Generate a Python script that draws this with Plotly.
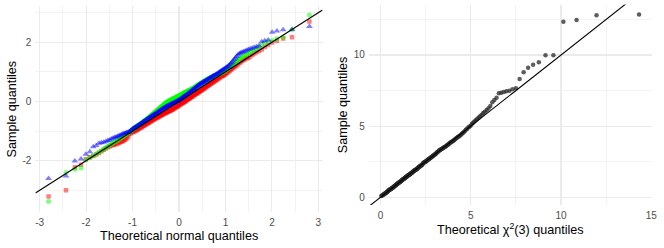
import math
from statistics import NormalDist
import plotly.graph_objects as go

# ---------------- data (sorted sample quantiles) ----------------
red_sample = [
    -3.21, -3.00, -2.22, -2.14, -1.95, -1.88, -1.84, -1.79, -1.74, -1.68,
    -1.63, -1.59, -1.55, -1.52, -1.49, -1.47, -1.46, -1.44, -1.42, -1.40,
    -1.38, -1.36, -1.34, -1.32, -1.29, -1.26, -1.22, -1.17, -1.10, -1.07,
    -1.05, -1.03, -1.03, -1.01, -0.99, -0.98, -0.96, -0.94, -0.92, -0.91,
    -0.89, -0.87, -0.86, -0.84, -0.82, -0.80, -0.79, -0.77, -0.76, -0.74,
    -0.73, -0.71, -0.70, -0.68, -0.67, -0.65, -0.64, -0.62, -0.61, -0.59,
    -0.58, -0.57, -0.56, -0.54, -0.53, -0.52, -0.51, -0.49, -0.48, -0.47,
    -0.46, -0.45, -0.44, -0.42, -0.41, -0.40, -0.39, -0.38, -0.37, -0.36,
    -0.35, -0.34, -0.33, -0.32, -0.31, -0.30, -0.29, -0.28, -0.27, -0.26,
    -0.24, -0.23, -0.22, -0.21, -0.19, -0.18, -0.17, -0.16, -0.15, -0.13,
    -0.12, -0.10, -0.09, -0.08, -0.07, -0.05, -0.04, -0.03, -0.02, 0.00,
    0.01, 0.02, 0.04, 0.05, 0.07, 0.08, 0.09, 0.10, 0.12, 0.13,
    0.15, 0.16, 0.17, 0.19, 0.20, 0.22, 0.23, 0.25, 0.26, 0.27,
    0.29, 0.30, 0.31, 0.33, 0.34, 0.36, 0.37, 0.39, 0.40, 0.42,
    0.43, 0.45, 0.47, 0.48, 0.50, 0.52, 0.53, 0.55, 0.57, 0.58,
    0.60, 0.62, 0.63, 0.65, 0.67, 0.69, 0.70, 0.72, 0.74, 0.76,
    0.78, 0.80, 0.82, 0.84, 0.86, 0.87, 0.89, 0.91, 0.93, 0.96,
    0.98, 1.01, 1.04, 1.07, 1.10, 1.13, 1.16, 1.19, 1.22, 1.26,
    1.30, 1.33, 1.37, 1.40, 1.43, 1.46, 1.48, 1.52, 1.58, 1.62,
    1.66, 1.71, 1.76, 1.84, 1.91, 1.99, 2.05, 2.13, 2.17, 2.70,
]

green_sample = [
    -3.38, -2.40, -2.29, -2.25, -1.98, -1.90, -1.83, -1.77, -1.71, -1.66,
    -1.61, -1.56, -1.52, -1.48, -1.44, -1.40, -1.37, -1.34, -1.31, -1.28,
    -1.25, -1.22, -1.19, -1.16, -1.13, -1.11, -1.08, -1.06, -1.04, -1.01,
    -0.99, -0.96, -0.93, -0.90, -0.88, -0.86, -0.84, -0.82, -0.80, -0.78,
    -0.76, -0.74, -0.72, -0.70, -0.68, -0.66, -0.64, -0.62, -0.60, -0.58,
    -0.56, -0.54, -0.52, -0.50, -0.48, -0.46, -0.44, -0.42, -0.40, -0.38,
    -0.36, -0.34, -0.32, -0.30, -0.28, -0.26, -0.25, -0.23, -0.21, -0.19,
    -0.18, -0.16, -0.14, -0.12, -0.10, -0.08, -0.07, -0.05, -0.04, -0.02,
    -0.01, 0.00, 0.01, 0.03, 0.04, 0.05, 0.06, 0.07, 0.08, 0.09,
    0.10, 0.11, 0.12, 0.13, 0.14, 0.15, 0.16, 0.17, 0.18, 0.19,
    0.20, 0.21, 0.22, 0.23, 0.24, 0.26, 0.27, 0.28, 0.29, 0.30,
    0.31, 0.32, 0.33, 0.34, 0.35, 0.36, 0.37, 0.38, 0.39, 0.40,
    0.41, 0.42, 0.43, 0.44, 0.45, 0.47, 0.48, 0.50, 0.51, 0.52,
    0.54, 0.55, 0.57, 0.58, 0.59, 0.61, 0.62, 0.63, 0.65, 0.66,
    0.68, 0.69, 0.70, 0.72, 0.73, 0.74, 0.76, 0.77, 0.78, 0.80,
    0.81, 0.82, 0.83, 0.85, 0.86, 0.87, 0.88, 0.89, 0.90, 0.91,
    0.92, 0.93, 0.94, 0.96, 0.97, 0.99, 1.01, 1.03, 1.05, 1.07,
    1.10, 1.13, 1.16, 1.19, 1.22, 1.25, 1.28, 1.31, 1.35, 1.39,
    1.43, 1.47, 1.50, 1.53, 1.57, 1.60, 1.63, 1.66, 1.70, 1.74,
    1.79, 1.84, 1.90, 1.98, 2.02, 2.06, 2.12, 2.17, 2.42, 2.92,
]

blue_sample = [
    -2.60, -2.52, -2.01, -1.94, -1.78, -1.70, -1.53, -1.49, -1.41, -1.39,
    -1.38, -1.35, -1.32, -1.30, -1.27, -1.24, -1.22, -1.20, -1.18, -1.16,
    -1.14, -1.12, -1.10, -1.08, -1.07, -1.06, -1.05, -1.04, -1.02, -0.99,
    -0.96, -0.93, -0.91, -0.89, -0.87, -0.85, -0.83, -0.81, -0.79, -0.78,
    -0.76, -0.74, -0.72, -0.70, -0.68, -0.67, -0.65, -0.63, -0.61, -0.60,
    -0.58, -0.56, -0.55, -0.53, -0.51, -0.50, -0.48, -0.47, -0.45, -0.44,
    -0.42, -0.41, -0.39, -0.38, -0.36, -0.35, -0.33, -0.32, -0.30, -0.29,
    -0.28, -0.26, -0.25, -0.24, -0.22, -0.21, -0.20, -0.19, -0.17, -0.16,
    -0.15, -0.14, -0.13, -0.12, -0.11, -0.10, -0.09, -0.08, -0.07, -0.06,
    -0.05, -0.04, -0.03, -0.02, -0.01, 0.00, 0.01, 0.02, 0.03, 0.04,
    0.05, 0.07, 0.08, 0.10, 0.11, 0.12, 0.14, 0.15, 0.17, 0.18,
    0.19, 0.21, 0.22, 0.24, 0.25, 0.27, 0.28, 0.30, 0.31, 0.33,
    0.34, 0.36, 0.38, 0.39, 0.41, 0.43, 0.44, 0.46, 0.48, 0.50,
    0.51, 0.53, 0.55, 0.56, 0.58, 0.59, 0.60, 0.62, 0.63, 0.65,
    0.66, 0.67, 0.69, 0.70, 0.72, 0.73, 0.75, 0.76, 0.78, 0.79,
    0.81, 0.82, 0.84, 0.85, 0.87, 0.88, 0.90, 0.91, 0.93, 0.95,
    0.97, 0.99, 1.01, 1.03, 1.05, 1.07, 1.09, 1.11, 1.14, 1.16,
    1.18, 1.21, 1.24, 1.28, 1.32, 1.37, 1.42, 1.47, 1.52, 1.57,
    1.61, 1.64, 1.66, 1.68, 1.71, 1.73, 1.76, 1.78, 1.80, 1.83,
    1.85, 1.88, 2.02, 2.05, 2.08, 2.34, 2.38, 2.42, 2.43, 2.53,
]

chisq_sample = [
    0.09, 0.12, 0.16, 0.19, 0.22, 0.25, 0.27, 0.30, 0.32, 0.35,
    0.38, 0.40, 0.43, 0.46, 0.49, 0.51, 0.53, 0.55, 0.57, 0.59,
    0.61, 0.63, 0.64, 0.66, 0.68, 0.70, 0.72, 0.74, 0.77, 0.79,
    0.81, 0.83, 0.86, 0.88, 0.90, 0.93, 0.95, 0.97, 0.99, 1.01,
    1.03, 1.05, 1.06, 1.08, 1.10, 1.12, 1.14, 1.16, 1.18, 1.21,
    1.23, 1.25, 1.28, 1.30, 1.31, 1.33, 1.35, 1.37, 1.40, 1.42,
    1.44, 1.46, 1.48, 1.50, 1.53, 1.55, 1.57, 1.58, 1.60, 1.62,
    1.64, 1.67, 1.69, 1.71, 1.73, 1.76, 1.78, 1.81, 1.83, 1.86,
    1.88, 1.90, 1.92, 1.94, 1.96, 1.98, 2.00, 2.03, 2.06, 2.09,
    2.11, 2.14, 2.16, 2.19, 2.21, 2.23, 2.26, 2.29, 2.33, 2.37,
    2.41, 2.44, 2.46, 2.48, 2.50, 2.52, 2.55, 2.58, 2.61, 2.64,
    2.67, 2.70, 2.72, 2.75, 2.78, 2.81, 2.84, 2.87, 2.90, 2.93,
    2.96, 2.99, 3.03, 3.06, 3.10, 3.14, 3.18, 3.22, 3.26, 3.30,
    3.33, 3.36, 3.39, 3.42, 3.45, 3.48, 3.51, 3.54, 3.57, 3.61,
    3.65, 3.69, 3.73, 3.78, 3.83, 3.87, 3.90, 3.94, 3.98, 4.03,
    4.08, 4.13, 4.18, 4.23, 4.28, 4.33, 4.38, 4.44, 4.51, 4.58,
    4.66, 4.74, 4.80, 4.90, 4.96, 5.03, 5.15, 5.24, 5.32, 5.41,
    5.50, 5.60, 5.70, 5.80, 5.92, 6.02, 6.13, 6.25, 6.42, 6.68,
    6.84, 7.00, 7.31, 7.35, 7.40, 7.45, 7.49, 7.59, 7.66, 8.31,
    8.78, 9.11, 9.32, 9.49, 9.98, 9.98, 12.34, 12.46, 12.80, 12.85,
]

left_xticks = [-3, -2, -1, 0, 1, 2, 3]
left_xtick_labels = ["-3", "-2", "-1", "0", "1", "2", "3"]
left_yticks = [-2, 0, 2]
left_ytick_labels = ["-2", "0", "2"]
right_xticks = [0, 5, 10, 15]
right_xtick_labels = ["0", "5", "10", "15"]
right_yticks = [0, 5, 10]
right_ytick_labels = ["0", "5", "10"]

ref_intercept = 0.0
ref_slope = 1.0

# ---------------- theoretical quantiles (stat_qq style) ----------------
def normal_quantiles(n):
    nd = NormalDist()
    return [nd.inv_cdf((i - 0.5) / n) for i in range(1, n + 1)]


def chi3_cdf(x):
    if x <= 0:
        return 0.0
    return math.erf(math.sqrt(x / 2)) - math.sqrt(2 * x / math.pi) * math.exp(-x / 2)


def chi3_quantile(p):
    lo, hi = 0.0, 60.0
    for _ in range(100):
        mid = (lo + hi) / 2
        if chi3_cdf(mid) < p:
            lo = mid
        else:
            hi = mid
    return (lo + hi) / 2


def chi3_quantiles(n):
    return [chi3_quantile((i - 0.5) / n) for i in range(1, n + 1)]


FONT = "Liberation Sans, Arial, sans-serif"
GRID = "#EBEBEB"

fig = go.Figure()

groups = [
    (red_sample, "rgba(255,0,0,0.5)", "square", 4.5),
    (green_sample, "rgba(0,255,0,0.5)", "circle", 5),
    (blue_sample, "rgba(0,0,255,0.5)", "triangle-up", 6),
]
for vals, col, sym, sz in groups:
    fig.add_trace(go.Scatter(
        x=normal_quantiles(len(vals)), y=sorted(vals), mode="markers",
        marker=dict(symbol=sym, size=sz, color=col, line=dict(width=0)),
        xaxis="x", yaxis="y", showlegend=False, hoverinfo="skip"))

left_xrange = [-3.09, 3.09]
left_yrange = [-3.72, 3.24]
fig.add_trace(go.Scatter(
    x=left_xrange, y=[ref_intercept + ref_slope * v for v in left_xrange],
    mode="lines", line=dict(color="black", width=1.1),
    xaxis="x", yaxis="y", showlegend=False, hoverinfo="skip"))

right_xrange = [-0.64, 15.03]
right_yrange = [-0.54, 13.54]
fig.add_trace(go.Scatter(
    x=chi3_quantiles(len(chisq_sample)), y=sorted(chisq_sample), mode="markers",
    marker=dict(symbol="circle", size=4.5, color="rgba(40,40,40,0.75)", line=dict(width=0)),
    xaxis="x2", yaxis="y2", showlegend=False, hoverinfo="skip"))
fig.add_trace(go.Scatter(
    x=right_xrange, y=[ref_intercept + ref_slope * v for v in right_xrange],
    mode="lines", line=dict(color="black", width=1.1),
    xaxis="x2", yaxis="y2", showlegend=False, hoverinfo="skip"))


def axis(domain, rng, tickvals, ticktext, minor_vals, anchor):
    return dict(
        domain=domain, range=rng, anchor=anchor,
        tickmode="array", tickvals=tickvals, ticktext=ticktext,
        showgrid=True, gridcolor=GRID, gridwidth=1.1,
        minor=dict(tickmode="array", tickvals=minor_vals, showgrid=True,
                   gridcolor=GRID, gridwidth=0.6),
        zeroline=False, showline=False, ticks="",
        tickfont=dict(family=FONT, size=10, color="#4D4D4D"),
        ticklabelstandoff=3, fixedrange=True,
    )


W, H = 664, 248
fig.update_layout(
    width=W, height=H, margin=dict(l=0, r=0, t=0, b=0),
    paper_bgcolor="white", plot_bgcolor="white",
    xaxis=axis([35.7 / W, 325 / W], left_xrange, left_xticks, left_xtick_labels,
               [-2.5, -1.5, -0.5, 0.5, 1.5, 2.5], "y"),
    yaxis=axis([1 - 211.6 / H, 1 - 5.6 / H], left_yrange, left_yticks, left_ytick_labels,
               [-3, -1, 1, 3], "x"),
    xaxis2=axis([371.7 / W, 656.8 / W], right_xrange, right_xticks, right_xtick_labels,
                [2.5, 7.5, 12.5], "y2"),
    yaxis2=axis([1 - 205 / H, 1 - 4.6 / H], right_yrange, right_yticks, right_ytick_labels,
                [2.5, 7.5, 12.5], "x2"),
    showlegend=False,
    hovermode=False,
)

title_font = dict(family=FONT, size=12.6, color="black")
fig.add_annotation(text="Theoretical normal quantiles", x=180.3 / W, y=1 - 236 / H,
                   xref="paper", yref="paper", showarrow=False, font=title_font,
                   xanchor="center", yanchor="middle")
fig.add_annotation(text="Theoretical \u03c7<sup>2</sup>(3) quantiles", x=514.2 / W, y=1 - 229 / H,
                   xref="paper", yref="paper", showarrow=False, font=title_font,
                   xanchor="center", yanchor="middle")
fig.add_annotation(text="Sample quantiles", x=12 / W, y=1 - 108.6 / H,
                   xref="paper", yref="paper", showarrow=False, font=title_font,
                   textangle=-90, xanchor="center", yanchor="middle")
fig.add_annotation(text="Sample quantiles", x=345 / W, y=1 - 104.8 / H,
                   xref="paper", yref="paper", showarrow=False, font=title_font,
                   textangle=-90, xanchor="center", yanchor="middle")

fig.write_html(
    "out.html",
    config={"displayModeBar": False, "staticPlot": True},
    post_script="document.body.style.margin='0';document.body.style.padding='0';",
)
